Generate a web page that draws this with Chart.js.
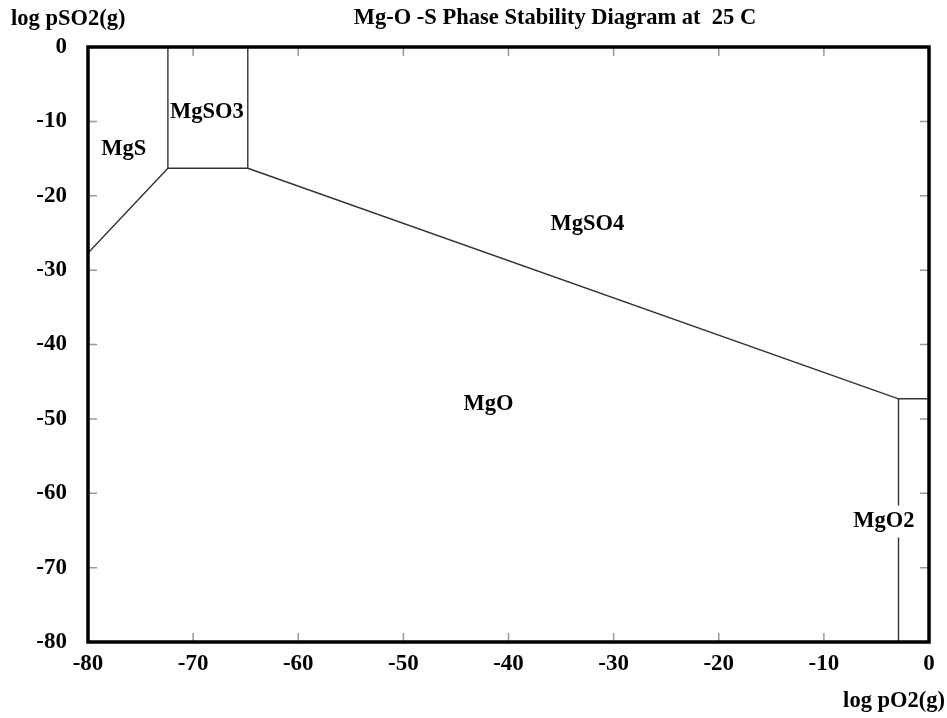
<!DOCTYPE html>
<html>
<head>
<meta charset="utf-8">
<script src="https://cdn.jsdelivr.net/npm/chart.js@4.4.1/dist/chart.umd.min.js"></script>
<style>
  html, body { margin: 0; padding: 0; background: #fff; }
  #wrap { width: 947px; height: 718px; }
</style>
</head>
<body>
<div id="wrap"><canvas id="diagrama"></canvas></div>
<script>
// limites de fase Mg-O-S a 25 C (log pO2, log pSO2)
const xTicks = [-80, -70, -60, -50, -40, -30, -20, -10, 0];
const yTicks = [0, -10, -20, -30, -40, -50, -60, -70, -80];

const mgsLinhaX = [-80, -72.4];
const mgsLinhaY = [-27.7, -16.3];

const mgso3CaixaX = [-72.4, -72.4, -64.8, -64.8];
const mgso3CaixaY = [0, -16.3, -16.3, 0];

const mgso4LinhaX = [-64.8, -2.9];
const mgso4LinhaY = [-16.3, -47.3];

const mgo2LinhaX = [-2.9, -2.9, 0];
const mgo2LinhaY = [-80, -47.3, -47.3];

// rótulos das fases
const fases = ['MgS', 'MgSO3', 'MgSO4', 'MgO', 'MgO2'];
const faseX = [-76.6, -68.7, -32.5, -41.9, -4.3];
const faseY = [-13.8, -8.7, -23.8, -48.0, -63.8];

function pontos(xs, ys) {
    return xs.map((x, i) => ({ x: x, y: ys[i] }));
}

const fonte = "'Liberation Serif', 'Times New Roman', serif";

const linha = {
    showLine: true,
    fill: false,
    borderColor: '#333',
    borderWidth: 1.4,
    pointRadius: 0,
    tension: 0
};

const dados = {
    datasets: [
        Object.assign({ label: 'MgS', data: pontos(mgsLinhaX, mgsLinhaY) }, linha),
        Object.assign({ label: 'MgSO3', data: pontos(mgso3CaixaX, mgso3CaixaY) }, linha),
        Object.assign({ label: 'MgSO4', data: pontos(mgso4LinhaX, mgso4LinhaY) }, linha),
        Object.assign({ label: 'MgO2', data: pontos(mgo2LinhaX, mgo2LinhaY) }, linha)
    ]
};

// moldura grossa, tracinhos para dentro e textos
const moldura = {
    id: 'moldura',
    afterDatasetsDraw(chart) {
        const ctx = chart.ctx;
        const a = chart.chartArea;
        const sx = chart.scales.x, sy = chart.scales.y;
        ctx.save();

        ctx.strokeStyle = '#999';
        ctx.lineWidth = 1.5;
        ctx.beginPath();
        xTicks.forEach(v => {
            const px = sx.getPixelForValue(v);
            ctx.moveTo(px, a.bottom); ctx.lineTo(px, a.bottom - 9);
            ctx.moveTo(px, a.top); ctx.lineTo(px, a.top + 9);
        });
        yTicks.forEach(v => {
            const py = sy.getPixelForValue(v);
            ctx.moveTo(a.left, py); ctx.lineTo(a.left + 9, py);
            ctx.moveTo(a.right, py); ctx.lineTo(a.right - 9, py);
        });
        ctx.stroke();

        ctx.strokeStyle = '#000';
        ctx.lineWidth = 3.5;
        ctx.strokeRect(a.left, a.top, a.right - a.left, a.bottom - a.top);

        ctx.fillStyle = '#000';
        ctx.textBaseline = 'middle';
        ctx.textAlign = 'center';
        ctx.font = 'bold 22.5px ' + fonte;
        fases.forEach((f, i) => {
            const px = sx.getPixelForValue(faseX[i]);
            const py = sy.getPixelForValue(faseY[i]);
            if (f === 'MgO2') {
                const w = ctx.measureText(f).width;
                ctx.fillStyle = '#fff';
                ctx.fillRect(px - w / 2 - 2, py - 16, w + 4, 32);
                ctx.fillStyle = '#000';
            }
            ctx.fillText(f, px, py);
        });

        ctx.font = 'bold 22.5px ' + fonte;
        ctx.textAlign = 'center';
        ctx.fillText('Mg-O -S Phase Stability Diagram at  25 C', 555, 18);
        ctx.textAlign = 'left';
        ctx.fillText('log pSO2(g)', 11, 19);
        ctx.textAlign = 'right';
        ctx.fillText('log pO2(g)', 945, 701);
        ctx.restore();
    }
};

const config = {
    type: 'scatter',
    data: dados,
    options: {
        responsive: false,
        animation: false,
        layout: { padding: { left: 0, top: 47, right: 18, bottom: 0 } },
        scales: {
            x: {
                type: 'linear',
                min: -80,
                max: 0,
                afterFit(scale) { scale.height = 76; },
                afterBuildTicks(scale) { scale.ticks = xTicks.map(v => ({ value: v })); },
                grid: { display: false },
                border: { display: false },
                ticks: {
                    color: '#000',
                    padding: 0,
                    font: { size: 23, weight: 'bold', family: fonte }
                }
            },
            y: {
                type: 'linear',
                min: -80,
                max: 0,
                afterFit(scale) { scale.width = 88; },
                afterBuildTicks(scale) { scale.ticks = yTicks.map(v => ({ value: v })); },
                grid: { display: false },
                border: { display: false },
                ticks: {
                    color: '#000',
                    padding: 13,
                    font: { size: 23, weight: 'bold', family: fonte }
                }
            }
        },
        plugins: {
            legend: { display: false },
            tooltip: { enabled: false },
            title: { display: false }
        }
    },
    plugins: [moldura]
};

const canvas = document.getElementById('diagrama');
canvas.width = 947;
canvas.height = 718;
new Chart(canvas.getContext('2d'), config);
</script>
</body>
</html>
